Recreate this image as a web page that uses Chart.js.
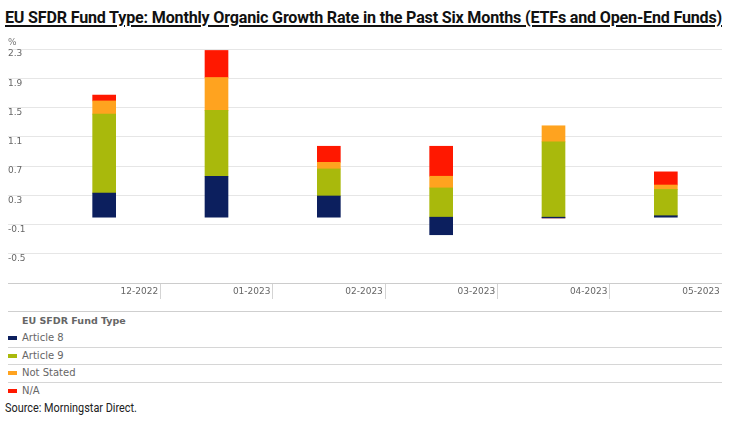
<!DOCTYPE html>
<html>
<head>
<meta charset="utf-8">
<script src="https://cdn.jsdelivr.net/npm/chart.js@4"></script>
<style>
    body { margin: 0; background: #fff; }
    #wrap { position: relative; width: 731px; height: 421px; overflow: hidden; }
    #titulo {
        position: absolute; left: 5px; top: 7px; white-space: nowrap;
        font: bold 17px "Roboto", sans-serif; letter-spacing: -0.2px;
        text-decoration: underline; text-decoration-thickness: 2px; text-underline-offset: 2px; color: #111;
        transform-origin: 0 0;
    }
    #caja { position: absolute; left: 0; top: 30px; width: 731px; height: 275px; }
    #leyenda {
        position: absolute; left: 8px; top: 311px; width: 714px;
        border-top: 1px solid #cfcfcf;
        font: 10px "DejaVu Sans", sans-serif; color: #666;
    }
    #leyenda .cab { height: 18px; line-height: 18px; padding-left: 14px; font-weight: bold; font-size: 9.5px; }
    #leyenda .fila { height: 16.5px; line-height: 16.5px; padding-left: 14px; position: relative; }
    #leyenda .fila.linea { border-bottom: 1px solid #d6d6d6; }
    #leyenda .marca { position: absolute; left: 0; top: 6px; width: 9px; height: 4px; }
    #fuente {
        position: absolute; left: 5px; top: 400px; white-space: nowrap;
        font: 13px "Roboto", sans-serif; color: #222;
        transform-origin: 0 0;
    }
</style>
</head>
<body>
<div id="wrap">
    <div id="titulo">EU SFDR Fund Type: Monthly Organic Growth Rate in the Past Six Months (ETFs and Open-End Funds)</div>
    <div id="caja"><canvas id="myChart"></canvas></div>
    <div id="leyenda"></div>
    <div id="fuente">Source: Morningstar Direct.</div>
</div>
<script>
const meses = ['12-2022', '01-2023', '02-2023', '03-2023', '04-2023', '05-2023'];
const article8 = [0.33, 0.56, 0.29, -0.24, -0.01, 0.02];
const article9 = [1.08, 0.90, 0.37, 0.40, 1.03, 0.36];
const notStated = [0.18, 0.45, 0.09, 0.16, 0.22, 0.06];
const noDisp = [0.08, 0.37, 0.22, 0.41, 0, 0.18];
const yMin = -0.9;
const yMax = 2.3;
const yPaso = 0.4;

const tituloLeyenda = 'EU SFDR Fund Type';
const series = [
    { nombre: 'Article 8', datos: article8, color: '#0c1f5e' },
    { nombre: 'Article 9', datos: article9, color: '#a9b90c' },
    { nombre: 'Not Stated', datos: notStated, color: '#ffa31f' },
    { nombre: 'N/A', datos: noDisp, color: '#ff1800' }
];

const fuenteEje = { family: 'DejaVu Sans', size: 9 };

// el simbolo % encima del eje
const porcentaje = {
    id: 'porcentaje',
    afterDraw(chart) {
        const ctx = chart.ctx;
        ctx.save();
        ctx.font = '9px "DejaVu Sans"';
        ctx.fillStyle = '#777';
        ctx.textBaseline = 'middle';
        ctx.fillText('%', 8, chart.chartArea.top - 6);
        ctx.restore();
    }
};

window.onload = function () {
    // no hay fuente estrecha, se comprime el texto al ancho del original
    ajustarAncho('titulo', 717);
    ajustarAncho('fuente', 132);
    crearGrafico();
    llenarLeyenda();
};

function ajustarAncho(id, ancho) {
    const el = document.getElementById(id);
    const actual = el.getBoundingClientRect().width;
    el.style.transform = 'scaleX(' + (ancho / actual) + ')';
}

function crearGrafico() {
    const ctx = document.getElementById('myChart').getContext('2d');
    new Chart(ctx, {
        type: 'bar',
        data: {
            labels: meses,
            datasets: series.map(s => ({
                label: s.nombre,
                data: s.datos,
                backgroundColor: s.color,
                borderWidth: 0,
                barThickness: 23
            }))
        },
        options: {
            responsive: true,
            maintainAspectRatio: false,
            animation: false,
            layout: { padding: { top: 19, left: 8, right: 9, bottom: 0 } },
            plugins: {
                legend: { display: false },
                tooltip: { enabled: false }
            },
            scales: {
                x: {
                    stacked: true,
                    border: { display: false },
                    grid: {
                        offset: true,
                        drawOnChartArea: false,
                        drawTicks: true,
                        tickLength: 16,
                        color: c => (c.index > 0 ? '#d4d4d4' : 'rgba(0,0,0,0)')
                    },
                    ticks: {
                        align: 'end',
                        labelOffset: 54,
                        padding: -13,
                        maxRotation: 0,
                        font: fuenteEje,
                        color: '#666'
                    },
                    afterFit: s => { s.height = 22; }
                },
                y: {
                    stacked: true,
                    min: yMin,
                    max: yMax,
                    border: { display: false },
                    grid: {
                        tickLength: 40,
                        color: c => (c.tick && c.tick.value === yMin ? '#cccccc' : '#e6e6e6')
                    },
                    ticks: {
                        stepSize: yPaso,
                        crossAlign: 'far',
                        labelOffset: 5,
                        padding: 0,
                        font: fuenteEje,
                        color: '#666',
                        callback: v => (v <= yMin + 0.01 ? '' : v.toFixed(1))
                    },
                    afterFit: s => { s.width = 40; }
                }
            }
        },
        plugins: [porcentaje]
    });
}

function llenarLeyenda() {
    const caja = document.getElementById('leyenda');
    const cab = document.createElement('div');
    cab.className = 'cab';
    cab.textContent = tituloLeyenda;
    caja.appendChild(cab);

    series.forEach((s, i) => {
        const fila = document.createElement('div');
        fila.className = i < series.length - 1 ? 'fila linea' : 'fila';
        const marca = document.createElement('span');
        marca.className = 'marca';
        marca.style.background = s.color;
        fila.appendChild(marca);
        fila.appendChild(document.createTextNode(s.nombre));
        caja.appendChild(fila);
    });
}
</script>
</body>
</html>
